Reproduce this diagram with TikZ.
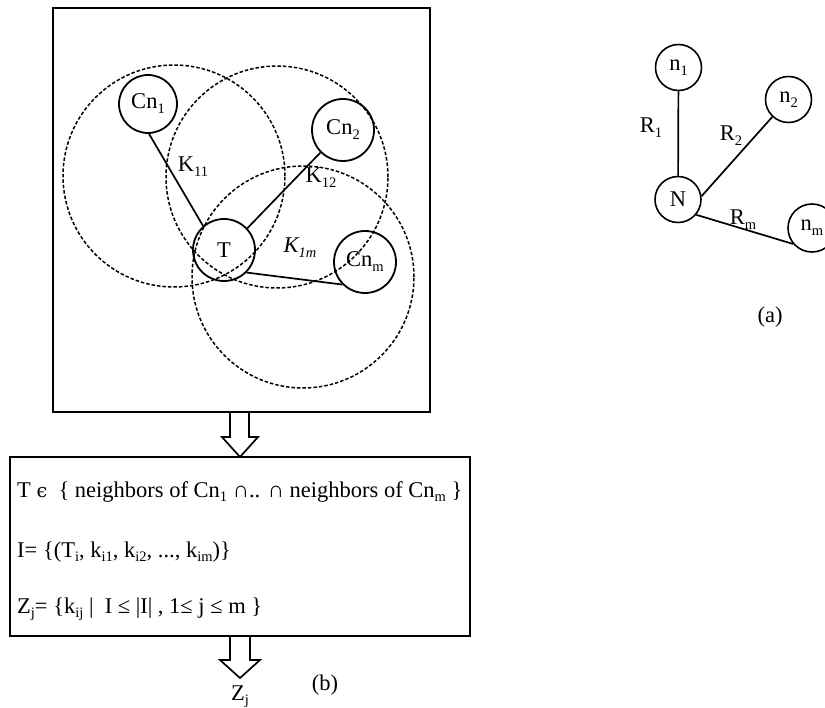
\documentclass[tikz,border=0pt]{standalone}
\usepackage{fontspec}
\setmainfont{Liberation Serif}
\newfontfamily\dvs[Scale=0.85]{DejaVu Serif}
\newcommand\sbs[1]{\raisebox{-0.22em}{\fontsize{14.5}{14.5}\selectfont #1}}
\begin{document}
\begin{tikzpicture}[x=1pt,y=-1pt,
  every node/.style={font=\fontsize{22.5}{27}\selectfont, inner sep=0pt},
  sc/.style={draw, circle, line width=1.8pt, minimum size=62pt},
  ac/.style={draw, circle, line width=1.6pt, minimum size=46pt},
  dc/.style={line width=1.5pt, dash pattern=on 3.5pt off 2pt},
  ln/.style={line width=1.7pt},
  frame/.style={draw, line width=2pt},
  blk/.style={line width=1.7pt, line join=miter},
  txt/.style={anchor=base west}
]
\useasboundingbox (0,0) rectangle (825,708);

% top frame
\draw[frame] (53,8) rectangle (430,412);

% dashed ranges
\draw[dc] (174,176) circle[radius=111pt];
\draw[dc] (277,177) circle[radius=111pt];
\draw[dc] (303,277) circle[radius=111pt];

% nodes
\node[sc, minimum size=58pt] (cn1) at (148,104) {Cn\sbs{1}};
\node[sc] (cn2) at (343,130) {Cn\sbs{2}};
\node[sc] (T) at (224,250) {T};
\node[sc] (cnm) at (365,262) {Cn\sbs{m}};

\draw[ln] (cn1.-88) -- (T.131);
\draw[ln] (T.43) -- (cn2.225);
\draw[ln] (T.-45) -- (cnm.-135);

\node (k11) at (193,167) {K\sbs{11}};
\node (k12) at (321,178) {K\sbs{12}};
\node (k1m) at (300,248) {\itshape K\sbs{1m}};

% panel (a)
\node[ac] (n1) at (678.5,67.5) {n\sbs{1}};
\node[ac] (n2) at (788.5,99.5) {n\sbs{2}};
\node[ac] (N) at (678,199.5) {N};
\node[ac, minimum size=48pt] (nm) at (812,228) {n\sbs{m}};
\draw[ln] (n1) -- (N);
\draw[ln] (N.8) -- (n2.227);
\draw[ln] (N.-40) -- (nm.220);
\node (r1) at (651,128) {R\sbs{1}};
\node (r2) at (731,136) {R\sbs{2}};
\node (rm) at (743,220) {R\sbs{m}};
\node (a) at (770,317) {(a)};

% block arrow 1
\draw[blk] (230,412) -- (230,437) -- (222,437) -- (240,457) -- (258,437) -- (249,437) -- (249,412);

% bottom box
\draw[frame] (10,457) rectangle (470,636);
\node[txt] (l1) at (17,497) {T {\dvs ϵ}\ \ \{ neighbors of Cn\sbs{1} ∩.. ∩ neighbors of Cn\sbs{m} \}};
\node[txt] (l2) at (17,557) {I= \{(T\sbs{i}, k\sbs{i1}, k\sbs{i2}, ..., k\sbs{im})\}};
\node[txt] (l3) at (17,613) {Z\sbs{j}= \{k\sbs{ij} |\ \ I ≤ |I| , 1≤ j ≤ m \}};

% block arrow 2
\draw[blk] (230,636) -- (230,660) -- (220,660) -- (240,678) -- (260,660) -- (250,660) -- (250,636);

\node[anchor=base west] (zj) at (231,700) {Z\sbs{j}};
\node (b) at (325,685) {(b)};
\end{tikzpicture}
\end{document}
